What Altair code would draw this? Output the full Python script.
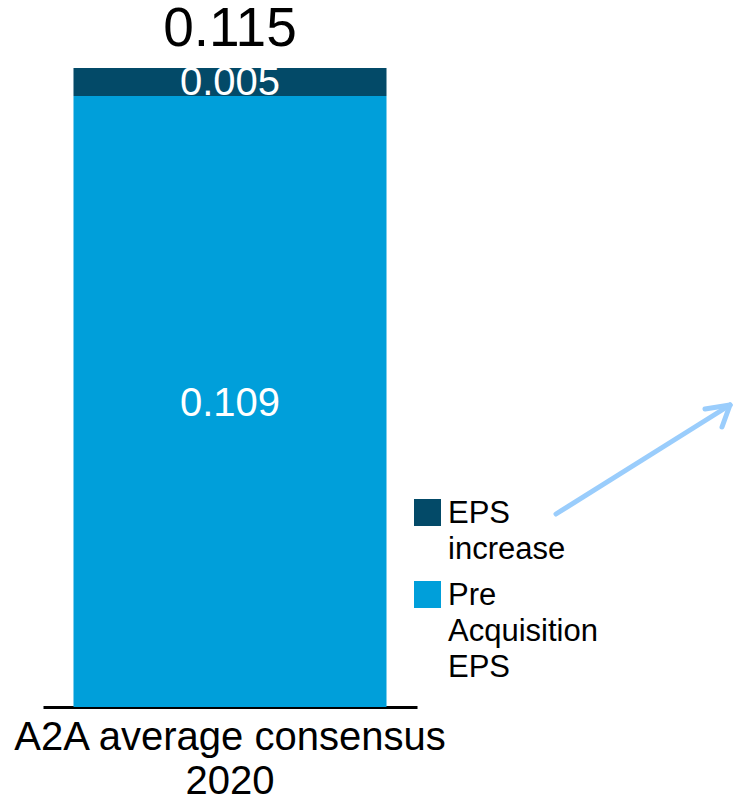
import altair as alt
import pandas as pd

# ---- data ----
categories = ["A2A average consensus\n2020"]
series_names = ["Pre Acquisition EPS", "EPS increase"]
pre_eps = [0.109]
eps_increase = [0.005]
pre_labels = ["0.109"]
inc_labels = ["0.005"]
total_labels = ["0.115"]
legend_series = ["EPS increase", "Pre Acquisition EPS"]
legend_labels = ["EPS\nincrease", "Pre\nAcquisition\nEPS"]
palette = ["#034A68", "#009FDA"]

FONT = "Liberation Sans"

rows = []
for i, c in enumerate(categories):
    rows.append({"category": c, "series": series_names[0], "value": pre_eps[i], "order": 0})
    rows.append({"category": c, "series": series_names[1], "value": eps_increase[i], "order": 1})
bars_df = pd.DataFrame(rows)

lab_df = pd.DataFrame({
    "category": categories,
    "pre_mid": [v / 2 for v in pre_eps],
    "pre_top": pre_eps,
    "total": [a + b for a, b in zip(pre_eps, eps_increase)],
    "pre_label": pre_labels,
    "inc_label": inc_labels,
    "total_label": total_labels,
})

xscale = alt.Scale(domain=categories, range=[43, 417], paddingInner=0, paddingOuter=0.0974)
yscale = alt.Scale(domain=[0, 0.12613], nice=False, zero=True)
cscale = alt.Scale(domain=legend_series, range=palette)

x_axis = alt.Axis(
    domain=True, domainColor="black", domainWidth=3, ticks=False, grid=False,
    labelAngle=0, labelFont=FONT, labelFontSize=40, labelColor="black",
    labelLineHeight=44, labelPadding=10, labelBaseline="top",
    labelLimit=0, labelExpr="split(datum.label, '\\n')",
)
x_enc = alt.X("category:N", scale=xscale, title=None, sort=categories, axis=x_axis)

bars = alt.Chart(bars_df).mark_bar().encode(
    x=x_enc,
    y=alt.Y("value:Q", stack="zero", scale=yscale, axis=None),
    color=alt.Color("series:N", scale=cscale, legend=None),
    order=alt.Order("order:Q"),
)

base = alt.Chart(lab_df)

pre_text = base.mark_text(font=FONT, fontSize=40, color="white", baseline="middle", dy=2).encode(
    x=x_enc, y=alt.Y("pre_mid:Q", scale=yscale, axis=None), text="pre_label:N")
inc_text = base.mark_text(font=FONT, fontSize=40, color="white", baseline="alphabetic", dy=-1).encode(
    x=x_enc, y=alt.Y("pre_top:Q", scale=yscale, axis=None), text="inc_label:N")
tot_text = base.mark_text(font=FONT, fontSize=55, color="black", baseline="alphabetic", dy=-22).encode(
    x=x_enc, y=alt.Y("total:Q", scale=yscale, axis=None), text="total_label:N")

# ---- manual legend ----
leg_rows = []
for i, (s, l) in enumerate(zip(legend_series, legend_labels)):
    top = 499 + i * 82
    leg_rows.append({"series": s, "label": l, "sx": 427.5, "sy": top + 13.5, "tx": 448, "ty": top + 24})
leg_df = pd.DataFrame(leg_rows)
leg_sq = alt.Chart(leg_df).mark_square(size=27 * 27, opacity=1).encode(
    x=alt.X("sx:Q", scale=None), y=alt.Y("sy:Q", scale=None),
    color=alt.Color("series:N", scale=cscale, legend=None))
leg_tx = alt.Chart(leg_df).mark_text(
    font=FONT, fontSize=31, align="left", baseline="alphabetic", lineBreak="\n", lineHeight=36, color="black"
).encode(x=alt.X("tx:Q", scale=None), y=alt.Y("ty:Q", scale=None), text="label:N")

# ---- arrow ----
arrow_df = pd.DataFrame({
    "x": [556, 730, 730], "y": [514, 405, 405],
    "x2": [730, 705, 722], "y2": [405, 409, 427],
})
arrow = alt.Chart(arrow_df).mark_rule(color="#9ACDFC", strokeWidth=5, strokeCap="round").encode(
    x=alt.X("x:Q", scale=None), y=alt.Y("y:Q", scale=None),
    x2="x2:Q", y2="y2:Q")

chart = alt.layer(bars, pre_text, inc_text, tot_text, leg_sq, leg_tx, arrow).properties(
    width=736, height=707,
    padding={"left": 0, "right": 0, "top": 0, "bottom": 94},
    autosize=alt.AutoSizeParams(type="none"),
    background="white",
).configure_view(strokeWidth=0, stroke="transparent")

chart.save("out.html", embed_options={"renderer": "svg", "actions": False})
